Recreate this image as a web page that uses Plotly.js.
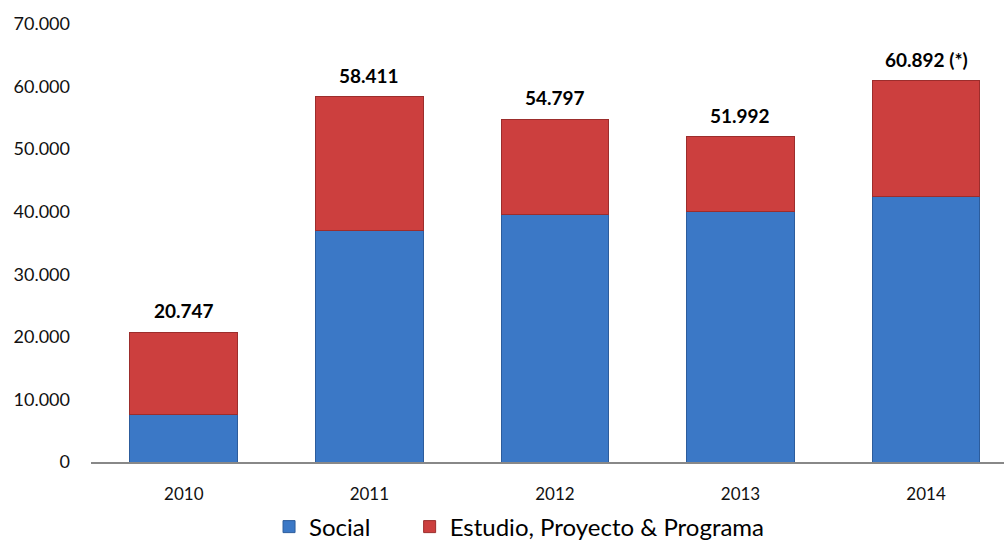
<!DOCTYPE html>
<html>
<head>
<meta charset="utf-8">
<script src="https://cdn.plot.ly/plotly-3.0.1.min.js"></script>
<style>html,body{margin:0;padding:0;background:#fff}#chart{width:1004px;height:545px}</style>
</head>
<body>
<div id="chart"></div>
<script>
const years = ['2010', '2011', '2012', '2013', '2014'];
const social = [7600, 37000, 39600, 40100, 42500];
const estudio = [13147, 21411, 15197, 11892, 18392];
const totals = [20747, 58411, 54797, 51992, 60892];
const totalLabels = ['20.747', '58.411', '54.797', '51.992', '60.892 (*)'];
const seriesNames = ['Social', 'Estudio, Proyecto & Programa'];

const FONT = 'Lato, "Open Sans", sans-serif';

const traces = [
  {
    type: 'bar', x: years, y: social, name: seriesNames[0], legend: 'legend',
    marker: {color: '#3b78c6', line: {color: '#2c5c9c', width: 1}},
    hoverinfo: 'skip'
  },
  {
    type: 'bar', x: years, y: estudio, name: seriesNames[1], legend: 'legend2',
    marker: {color: '#cc3f3e', line: {color: '#9c2d2c', width: 1}},
    hoverinfo: 'skip'
  }
];

// category axes place annotations by category index
const annotations = years.map((yr, i) => ({
  x: i, y: totals[i], xref: 'x', yref: 'y',
  text: totalLabels[i], showarrow: false,
  yanchor: 'bottom', yshift: 8,
  font: {family: FONT, size: 19, color: '#000', weight: 'bold'}
}));

const legendCommon = {
  orientation: 'h', yref: 'container', y: 0.033, yanchor: 'middle', xanchor: 'left',
  font: {size: 24, color: '#000'}, itemwidth: 30
};

const layout = {
  width: 1004, height: 545,
  margin: {l: 91, r: 0, t: 24, b: 83},
  barmode: 'stack',
  bargap: 0.42,
  separators: ',.',
  paper_bgcolor: '#fff', plot_bgcolor: '#fff',
  font: {family: FONT, size: 17, color: '#000'},
  annotations: annotations,
  xaxis: {
    type: 'category', range: [-0.5, 4.42],
    showline: true, linecolor: '#888', linewidth: 1.5,
    ticks: '', ticklabelstandoff: 16, tickfont: {size: 17, color: '#111'},
    showgrid: false, zeroline: false, fixedrange: true
  },
  yaxis: {
    range: [0, 70000], dtick: 10000, tickformat: ',d',
    showgrid: false, zeroline: false, showline: false,
    ticks: '', ticklabelstandoff: 20,
    tickfont: {size: 18, color: '#111'}, fixedrange: true
  },
  legend: Object.assign({x: 0.195}, legendCommon),
  legend2: Object.assign({x: 0.349}, legendCommon),
  showlegend: true
};

Plotly.newPlot('chart', traces, layout, {displayModeBar: false, staticPlot: true});
</script>
</body>
</html>
